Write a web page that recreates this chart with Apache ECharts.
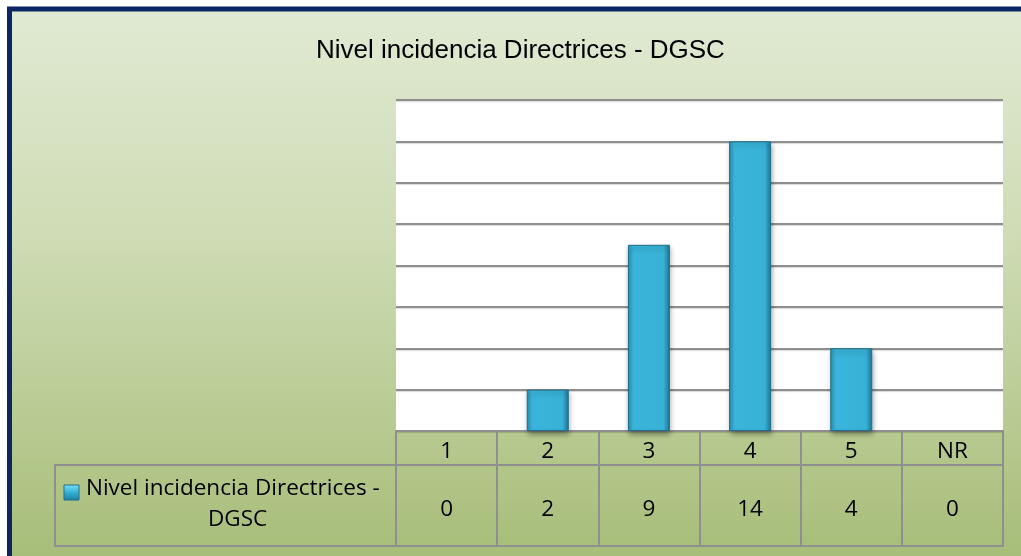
<!DOCTYPE html>
<html><head><meta charset="utf-8">
<script src="https://cdn.jsdelivr.net/npm/echarts@6/dist/echarts.min.js"></script>
<style>html,body{margin:0;padding:0;background:#fff}#c{width:1021px;height:556px}</style>
</head><body><div id="c"></div>
<script>
var titleText = 'Nivel incidencia Directrices - DGSC';
var seriesName = 'Nivel incidencia Directrices - DGSC';
var categories = ['1', '2', '3', '4', '5', 'NR'];
var values = [0, 2, 9, 14, 4, 0];
var yMin = 0, yMax = 16, yInterval = 2;

var chart = echarts.init(document.getElementById('c'));
var gray = '#8f8f8f';
var tableFont = '"Open Sans", Lato, sans-serif';
var fs = 22.5;
var barData = values.map(function (v) {
  return v === 0 ? {value: v, itemStyle: {opacity: 0}} : v;
});
chart.setOption({
  animation: false,
  graphic: [
    {type: 'rect', z: -10, shape: {x: 9.5, y: 9, width: 1030, height: 560},
     style: {stroke: '#0c2563', lineWidth: 5,
       fill: new echarts.graphic.LinearGradient(0, 0, 0, 1, [
         {offset: 0, color: '#e0ead3'}, {offset: 0.4, color: '#cfdcb5'}, {offset: 1, color: '#a5bc76'}])}},
    {type: 'rect', z: 5, shape: {x: 55, y: 465, width: 341, height: 81},
     style: {fill: 'none', stroke: gray, lineWidth: 2}},
    {type: 'rect', z: 6, shape: {x: 64, y: 485, width: 15, height: 15},
     style: {fill: new echarts.graphic.LinearGradient(0, 0, 0, 1, [
       {offset: 0, color: '#7fe0f7'}, {offset: 0.5, color: '#34b0d6'}, {offset: 1, color: '#1f7ea0'}]),
       stroke: '#1d6f8c', lineWidth: 1}},
    {type: 'text', z: 6, left: 86, top: 477,
     style: {text: 'Nivel incidencia Directrices -', font: fs + 'px ' + tableFont, fill: '#000'}},
    {type: 'text', z: 6, left: 208, top: 508,
     style: {text: 'DGSC', font: fs + 'px ' + tableFont, fill: '#000'}}
  ],
  title: {text: titleText, left: 311, top: 33,
    textStyle: {fontFamily: '"Liberation Sans", Arial, sans-serif', fontSize: 26, fontWeight: 'normal', color: '#000'}},
  grid: {left: 396, right: 18, top: 100, bottom: 125, show: true, backgroundColor: '#fff', borderWidth: 0},
  xAxis: [
    {type: 'category', data: categories, position: 'bottom',
     axisLine: {show: true, lineStyle: {color: gray, width: 2}},
     axisTick: {show: true, interval: 0, length: 115, lineStyle: {color: gray, width: 2}},
     axisLabel: {interval: 0, margin: 9, fontSize: fs, fontFamily: tableFont, color: '#000'}},
    {type: 'category', data: values.map(String), position: 'bottom', offset: 34,
     axisLine: {show: true, lineStyle: {color: gray, width: 2}},
     axisTick: {show: false},
     axisLabel: {interval: 0, margin: 33, fontSize: fs, fontFamily: tableFont, color: '#000'}},
    {type: 'category', data: categories.map(function(){return '';}), position: 'bottom', offset: 115,
     axisLine: {show: true, lineStyle: {color: gray, width: 2}},
     axisTick: {show: false}, axisLabel: {show: false}}
  ],
  yAxis: {type: 'value', min: yMin, max: yMax, interval: yInterval,
    axisLine: {show: false}, axisTick: {show: false}, axisLabel: {show: false},
    splitLine: {show: true, lineStyle: {color: gray, width: 2, shadowColor: 'rgba(0,0,0,0.15)', shadowOffsetY: 1, shadowBlur: 1}}},
  series: [{
    name: seriesName, type: 'bar', data: barData, barWidth: 42, xAxisIndex: 0,
    itemStyle: {
      color: new echarts.graphic.LinearGradient(0, 0, 1, 0, [
        {offset: 0, color: '#2a8fb3'}, {offset: 0.12, color: '#3ab5db'},
        {offset: 0.85, color: '#38b1d6'}, {offset: 1, color: '#1f7897'}]),
      borderColor: '#1f6f8a', borderWidth: 1,
      shadowColor: 'rgba(0,0,0,0.35)', shadowBlur: 5, shadowOffsetY: 3, shadowOffsetX: 1
    }
  }]
});
</script></body></html>
